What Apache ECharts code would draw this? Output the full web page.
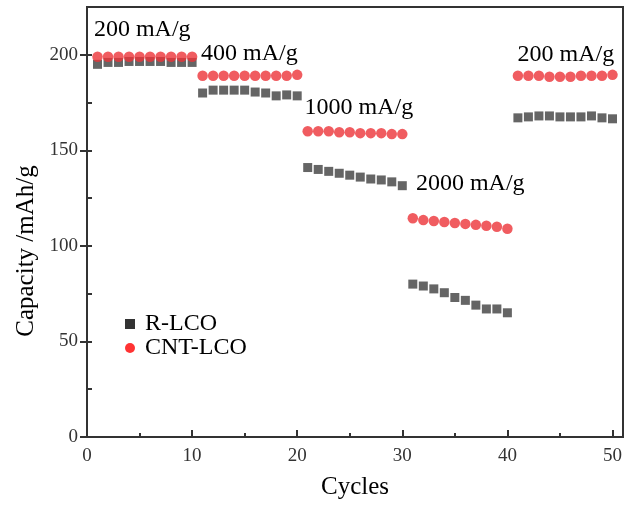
<!DOCTYPE html>
<html>
<head>
<meta charset="utf-8">
<script src="https://cdn.jsdelivr.net/npm/echarts@6/dist/echarts.min.js"></script>
<style>
  html, body { margin: 0; padding: 0; background: #fff; }
  #main { width: 625px; height: 506px; }
</style>
</head>
<body>
<div id="main"></div>
<script>
// cycle numbers 1..50
const cycles = [
  1, 2, 3, 4, 5, 6, 7, 8, 9, 10,
  11, 12, 13, 14, 15, 16, 17, 18, 19, 20,
  21, 22, 23, 24, 25, 26, 27, 28, 29, 30,
  31, 32, 33, 34, 35, 36, 37, 38, 39, 40,
  41, 42, 43, 44, 45, 46, 47, 48, 49, 50
]
// R-LCO capacity (mAh/g)
const rLco = [
  195, 196, 196, 196.5, 196.5, 196.5, 196.5, 196, 196, 196,
  180, 181.5, 181.5, 181.5, 181.5, 180.5, 180, 178.5, 179, 178.5,
  141, 140, 139, 138, 137, 136, 135, 134.5, 133.5, 131.5,
  80, 79, 77.5, 75.5, 73, 71.5, 69, 67, 67, 65,
  167, 167.5, 168, 168, 167.5, 167.5, 167.5, 168, 167, 166.5
]
// CNT-LCO capacity (mAh/g)
const cntLco = [
  199, 199, 199, 199, 199, 199, 199, 199, 199, 199,
  189, 189, 189, 189, 189, 189, 189, 189, 189, 189.5,
  160, 160, 160, 159.5, 159.5, 159, 159, 159, 158.5, 158.5,
  114.5, 113.5, 113, 112.5, 112, 111.5, 111, 110.5, 110, 109,
  189, 189, 189, 188.5, 188.5, 188.5, 189, 189, 189, 189.5
]
// current density labels, anchored in data coordinates
const annoText = ['200 mA/g', '400 mA/g', '1000 mA/g', '2000 mA/g', '200 mA/g']
const annoX = [0.66, 10.85, 20.7, 31.3, 40.96]
const annoY = [213.3, 200.5, 172.5, 132.3, 200.3]

const serif = '"Liberation Serif", "Times New Roman", serif'

const chart = echarts.init(document.getElementById('main'))

const option = {
  animation: false,
  backgroundColor: '#fff',
  grid: {
    left: 87,
    right: 2,
    top: 7,
    bottom: 69,
    show: true,
    borderColor: '#333',
    borderWidth: 2
  },
  legend: {
    orient: 'vertical',
    left: 125,
    top: 312,
    padding: 0,
    itemWidth: 10,
    itemHeight: 10,
    itemGap: 0,
    textStyle: {
      fontFamily: serif,
      fontSize: 24,
      lineHeight: 24,
      color: '#000',
      padding: [0, 0, 0, 5]
    },
    data: [
      { name: 'R-LCO', icon: 'rect', itemStyle: { color: '#000' } },
      { name: 'CNT-LCO', icon: 'circle', itemStyle: { color: '#ff0000' } }
    ]
  },
  xAxis: {
    type: 'value',
    min: 0,
    max: 51,
    interval: 10,
    name: 'Cycles',
    nameLocation: 'middle',
    nameGap: 38,
    nameTextStyle: { fontFamily: serif, fontSize: 25, color: '#000' },
    axisLine: { lineStyle: { color: '#333', width: 2 } },
    axisTick: { inside: true, length: 7, lineStyle: { color: '#333', width: 2 } },
    minorTick: { show: true, splitNumber: 2, length: 4, lineStyle: { color: '#333', width: 2 } },
    splitLine: { show: false },
    axisLabel: {
      fontFamily: serif,
      fontSize: 19,
      color: '#333',
      margin: 10,
      showMaxLabel: false
    }
  },
  yAxis: [
    {
      type: 'value',
      min: 0,
      max: 225,
      interval: 50,
      name: 'Capacity /mAh/g',
      nameLocation: 'middle',
      nameGap: 46,
      nameTextStyle: {
        fontFamily: serif,
        fontSize: 25,
        color: '#000',
        padding: [0, 58, 0, 0]
      },
      axisLine: { lineStyle: { color: '#333', width: 2 } },
      axisTick: { length: 7, lineStyle: { color: '#333', width: 2 } },
      splitLine: { show: false },
      axisLabel: {
        fontFamily: serif,
        fontSize: 19,
        color: '#333',
        margin: 9,
        showMaxLabel: false
      }
    },
    {
      // minor ticks pointing inward
      type: 'value',
      min: 0,
      max: 225,
      interval: 25,
      position: 'left',
      axisLine: { show: false },
      axisTick: { inside: true, length: 5, lineStyle: { color: '#333', width: 2 } },
      axisLabel: { show: false },
      splitLine: { show: false }
    }
  ],
  series: [
    {
      name: 'R-LCO',
      type: 'scatter',
      symbol: 'rect',
      symbolSize: 9,
      itemStyle: { color: '#3f3f3f' },
      data: cycles.map((c, i) => [c, rLco[i]])
    },
    {
      name: 'CNT-LCO',
      type: 'scatter',
      symbol: 'circle',
      symbolSize: 10.5,
      itemStyle: { color: '#ec3338' },
      data: cycles.map((c, i) => [c, cntLco[i]])
    }
  ]
}

chart.setOption(option)

// place rate labels from data coordinates
chart.setOption({
  graphic: annoText.map((t, i) => {
    const p = chart.convertToPixel({ gridIndex: 0 }, [annoX[i], annoY[i]])
    return {
      type: 'text',
      x: p[0],
      y: p[1],
      style: {
        text: t,
        font: '24px ' + serif,
        fill: '#000',
        textAlign: 'left',
        textVerticalAlign: 'middle'
      }
    }
  })
})
</script>
</body>
</html>
